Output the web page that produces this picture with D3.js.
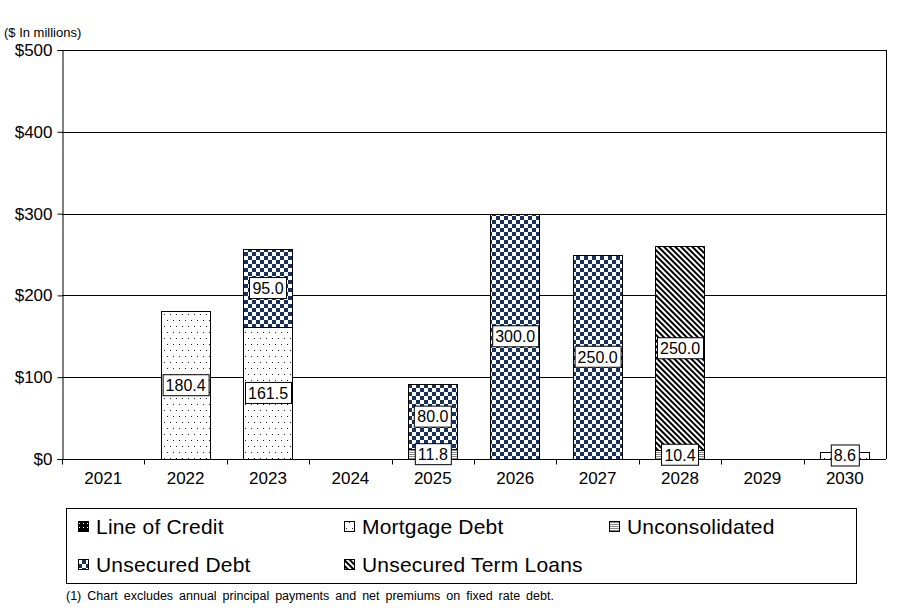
<!DOCTYPE html>
<html>
<head>
<meta charset="utf-8">
<script src="https://cdn.jsdelivr.net/npm/d3@7"></script>
<style>
body { margin: 0; background: #fff; }
text { font-family: "Liberation Sans", Arial, sans-serif; }
</style>
</head>
<body>
<div id="chart"></div>
<script>
// Data
var years = ["2021", "2022", "2023", "2024", "2025", "2026", "2027", "2028", "2029", "2030"];
var seriesNames = ["Line of Credit", "Mortgage Debt", "Unconsolidated", "Unsecured Debt", "Unsecured Term Loans"];
var lineOfCredit = [0, 0, 0, 0, 0, 0, 0, 0, 0, 0];
var mortgageDebt = [0, 180.4, 161.5, 0, 0, 0, 0, 0, 0, 8.6];
var unconsolidated = [0, 0, 0, 0, 11.8, 0, 0, 10.4, 0, 0];
var unsecuredDebt = [0, 0, 95.0, 0, 80.0, 300.0, 250.0, 0, 0, 0];
var termLoans = [0, 0, 0, 0, 0, 0, 0, 250.0, 0, 0];
var yTicks = [0, 100, 200, 300, 400, 500];

// Globals
var width = 901;
var height = 611;
var margin = {t:50, r:15, b:152, l:62};

var svg = d3.select("#chart")
	.append("svg")
	.attr("width", width)
	.attr("height", height);

var defs = svg.append("defs");

// patterns
var pCredit = defs.append("pattern").attr("id", "pat0")
	.attr("patternUnits", "userSpaceOnUse").attr("width", 4).attr("height", 4);
pCredit.append("rect").attr("width", 4).attr("height", 4).attr("fill", "#000");
pCredit.append("rect").attr("x", 1).attr("y", 1).attr("width", 1).attr("height", 1).attr("fill", "#fff");

var pMort = defs.append("pattern").attr("id", "pat1")
	.attr("patternUnits", "userSpaceOnUse").attr("width", 12).attr("height", 12);
pMort.append("rect").attr("width", 12).attr("height", 12).attr("fill", "#fff");
[[2, 2], [8, 2], [5, 8], [11, 8]].forEach(function(p) {
	pMort.append("rect").attr("x", p[0]).attr("y", p[1]).attr("width", 1).attr("height", 1).attr("fill", "#222");
});

var pUncon = defs.append("pattern").attr("id", "pat2")
	.attr("patternUnits", "userSpaceOnUse").attr("width", 4).attr("height", 2);
pUncon.append("rect").attr("width", 4).attr("height", 2).attr("fill", "#fff");
pUncon.append("rect").attr("width", 4).attr("height", 1).attr("fill", "#888");

var pUnsec = defs.append("pattern").attr("id", "pat3")
	.attr("patternUnits", "userSpaceOnUse").attr("width", 8).attr("height", 8);
pUnsec.append("rect").attr("width", 8).attr("height", 8).attr("fill", "#fff");
pUnsec.append("rect").attr("width", 4).attr("height", 4).attr("fill", "#17325c");
pUnsec.append("rect").attr("x", 4).attr("y", 4).attr("width", 4).attr("height", 4).attr("fill", "#17325c");

var pTerm = defs.append("pattern").attr("id", "pat4")
	.attr("patternUnits", "userSpaceOnUse").attr("width", 4).attr("height", 4)
	.attr("patternTransform", "rotate(45)");
pTerm.append("rect").attr("width", 4).attr("height", 4).attr("fill", "#fff");
pTerm.append("rect").attr("width", 4).attr("height", 2).attr("fill", "#000");

var fills = ["url(#pat0)", "url(#pat1)", "url(#pat2)", "url(#pat3)", "url(#pat4)"];

// Scales
var xAxis = d3.scaleBand()
	.range([margin.l, width - margin.r])
	.domain(years)
	.paddingInner(0.4)
	.paddingOuter(0.2);

var yAxis = d3.scaleLinear()
	.range([height - margin.b, margin.t])
	.domain([0, 500]);

// gridlines
svg.append("g")
	.selectAll("line")
	.data(yTicks)
	.enter().append("line")
		.attr("x1", margin.l)
		.attr("x2", width - margin.r)
		.attr("y1", function(d) { return Math.round(yAxis(d)) + 0.5; })
		.attr("y2", function(d) { return Math.round(yAxis(d)) + 0.5; })
		.attr("stroke", "#000");

// right border
svg.append("line")
	.attr("x1", width - margin.r + 0.5).attr("x2", width - margin.r + 0.5)
	.attr("y1", margin.t).attr("y2", height - margin.b)
	.attr("stroke", "#000");

// stack
var seriesData = [lineOfCredit, mortgageDebt, unconsolidated, unsecuredDebt, termLoans];
var dStack = [];
years.forEach(function(y, i) {
	var vStart = 0;
	for (var j = 0; j < seriesData.length; j++) {
		var v = seriesData[j][i];
		if (v > 0) {
			dStack.push({year: y, s: j, v: v, stackStart: vStart, stackEnd: vStart + v});
			vStart += v;
		}
	}
});

svg.selectAll(".bar")
	.data(dStack)
	.enter().append("rect")
		.attr("class", "bar")
		.attr("x", function(d) { return Math.round(xAxis(d.year)) + 0.5; })
		.attr("y", function(d) { return Math.round(yAxis(d.stackEnd)) + 0.5; })
		.attr("width", Math.round(xAxis.bandwidth()))
		.attr("height", function(d) { return Math.round(yAxis(d.stackStart)) - Math.round(yAxis(d.stackEnd)); })
		.attr("fill", function(d) { return fills[d.s]; })
		.attr("stroke", "#000")
		.attr("stroke-width", 1);

// axes
var gy = svg.append("g")
	.attr("transform", "translate(" + (margin.l + 0.5) + ",0)")
	.call(d3.axisLeft(yAxis).tickValues(yTicks).tickSize(5).tickPadding(5)
		.tickFormat(function(d) { return "$" + d; }));
gy.select(".domain").attr("stroke", "#000");
gy.selectAll("text").attr("font-size", 17).attr("font-family", "Liberation Sans, Arial").attr("fill", "#000");

var gx = svg.append("g")
	.attr("transform", "translate(0," + (Math.round(yAxis(0)) + 0.5) + ")");
gx.append("line")
	.attr("x1", margin.l).attr("x2", width - margin.r)
	.attr("stroke", "#000");
gx.selectAll(".tk")
	.data(years)
	.enter().append("line")
		.attr("class", "tk")
		.attr("x1", function(d, i) { return Math.round(margin.l + xAxis.step() * i) + 0.5; })
		.attr("x2", function(d, i) { return Math.round(margin.l + xAxis.step() * i) + 0.5; })
		.attr("y1", 0).attr("y2", 5)
		.attr("stroke", "#000");
gx.selectAll(".lbl")
	.data(years)
	.enter().append("text")
		.attr("class", "lbl")
		.attr("x", function(d) { return xAxis(d) + xAxis.bandwidth() / 2; })
		.attr("y", 24)
		.attr("text-anchor", "middle")
		.attr("font-size", 17)
		.text(function(d) { return d; });

// value labels
var labels = svg.selectAll(".vl")
	.data(dStack)
	.enter().append("g")
		.attr("class", "vl")
		.attr("transform", function(d) {
			return "translate(" + (xAxis(d.year) + xAxis.bandwidth() / 2) + "," + yAxis((d.stackStart + d.stackEnd) / 2) + ")";
		});
labels.append("text")
	.attr("text-anchor", "middle")
	.attr("dy", "0.36em")
	.attr("font-size", 16)
	.text(function(d) { return d3.format(".1f")(d.v); });
labels.insert("rect", "text")
	.each(function() {
		var t = this.parentNode.querySelector("text").getBBox();
		d3.select(this)
			.attr("x", Math.round(-t.width / 2 - 3) + 0.5)
			.attr("y", -10.5)
			.attr("width", Math.round(t.width + 6))
			.attr("height", 21)
			.attr("fill", "#fff")
			.attr("stroke", "#000");
	});

// unit label
svg.append("text")
	.attr("x", 4).attr("y", 37)
	.attr("font-size", 13)
	.text("($ In millions)");

// legend
var legend = svg.append("g");
legend.append("rect")
	.attr("x", 66.5).attr("y", 508.5)
	.attr("width", 790).attr("height", 75)
	.attr("fill", "#fff").attr("stroke", "#000");

var legendPos = [[78, 526], [344, 526], [609, 526], [78, 564], [344, 564]];
var items = legend.selectAll(".li")
	.data(seriesNames)
	.enter().append("g")
		.attr("class", "li")
		.attr("transform", function(d, i) { return "translate(" + legendPos[i][0] + "," + legendPos[i][1] + ")"; });
items.append("rect")
	.attr("x", 0.5).attr("y", -4.5)
	.attr("width", 10).attr("height", 10)
	.attr("fill", function(d, i) { return fills[i]; })
	.attr("stroke", "#000");
items.append("text")
	.attr("x", 18).attr("y", 7.5)
	.attr("font-size", 21)
	.attr("letter-spacing", 0.2)
	.text(function(d) { return d; });

// footnote
svg.append("text")
	.attr("x", 66).attr("y", 600)
	.attr("font-size", 12.5)
	.attr("word-spacing", 2.5)
	.text("(1) Chart excludes annual principal payments and net premiums on fixed rate debt.");
</script>
</body>
</html>
